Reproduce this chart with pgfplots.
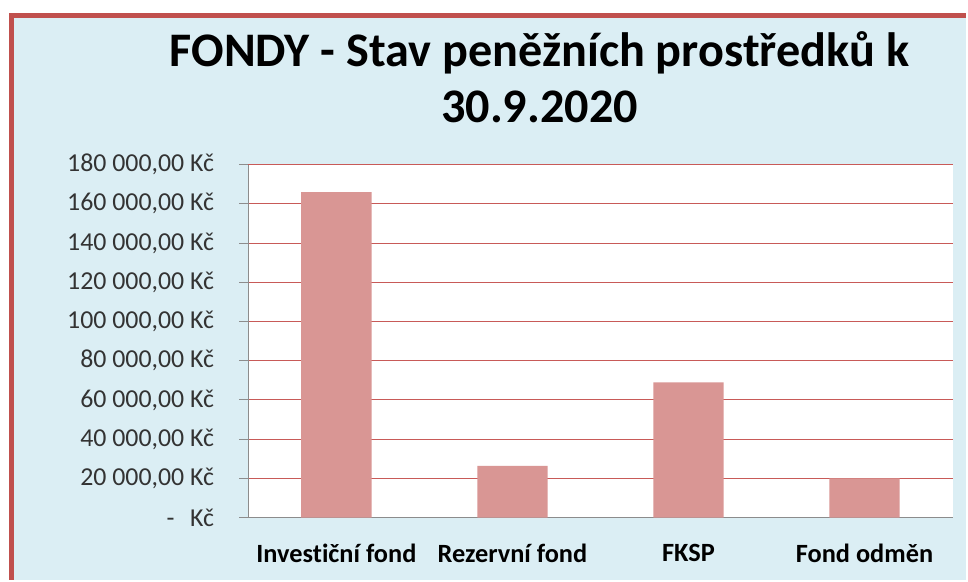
\documentclass[border=0pt]{standalone}
\usepackage{pgfplots}
\pgfplotsset{compat=1.18}
\usepackage{fontspec}
\setmainfont{Carlito}[Ligatures=NoCommon]
\definecolor{bgblue}{HTML}{DBEEF4}
\definecolor{frame}{HTML}{C0504D}
\definecolor{barc}{HTML}{D99694}
\definecolor{gridc}{HTML}{C85A58}
\definecolor{axgray}{HTML}{8C8C8C}
\definecolor{lab}{HTML}{333333}
\begin{document}
\begin{tikzpicture}
\fill[white] (0bp,0bp) rectangle (968bp,581bp);
\fill[bgblue] (11.5bp,0bp) rectangle (968bp,565.5bp);
\draw[frame, line width=5bp] (11.5bp,0bp) -- (11.5bp,565.5bp) -- (968bp,565.5bp);
\node[anchor=base, font=\fontsize{48.5}{56}\selectfont\bfseries] at (541bp,514bp) {FONDY - Stav peněžních prostředků k};
\node[anchor=base, font=\fontsize{48.5}{56}\selectfont\bfseries] at (541bp,458bp) {30.9.2020};
\begin{axis}[
  at={(249bp,62bp)}, anchor=south west,
  width=706bp, height=354bp, scale only axis,
  axis background/.style={fill=white},
  xmin=-0.5, xmax=3.5, ymin=0, ymax=180000,
  scaled y ticks=false,
  axis x line*=bottom, axis y line*=left,
  axis line style={axgray, line width=1bp, -},
  xtick={0,1,2,3},
  xticklabels={Investiční fond, Rezervní fond, FKSP, Fond odměn},
  x tick style={draw=none},
  minor xtick={-0.5,0.5,1.5,2.5,3.5},
  minor x tick style={axgray, line width=1bp},
  minor tick length=9bp,
  ytick={0,20000,40000,60000,80000,100000,120000,140000,160000,180000},
  yticklabels={{-\hspace{0.6em}Kč},{20 000,00 Kč},{40 000,00 Kč},{60 000,00 Kč},{80 000,00 Kč},{100 000,00 Kč},{120 000,00 Kč},{140 000,00 Kč},{160 000,00 Kč},{180 000,00 Kč}},
  y tick style={axgray, line width=1bp},
  major tick length=9bp,
  tick align=outside,
  ymajorgrids,
  major grid style={gridc, line width=1bp},
  yticklabel style={font=\fontsize{26}{30}\selectfont, text=lab, anchor=east, xshift=-22bp},
  xticklabel style={font=\fontsize{26.5}{30}\selectfont\bfseries, text=black, anchor=north, yshift=-14bp},
  bar width=70.5bp,
  clip=false,
]
\addplot[ybar, fill=barc, draw=none] coordinates {(0,166000) (1,26400) (2,69000) (3,20000)};
\end{axis}
\end{tikzpicture}
\end{document}
